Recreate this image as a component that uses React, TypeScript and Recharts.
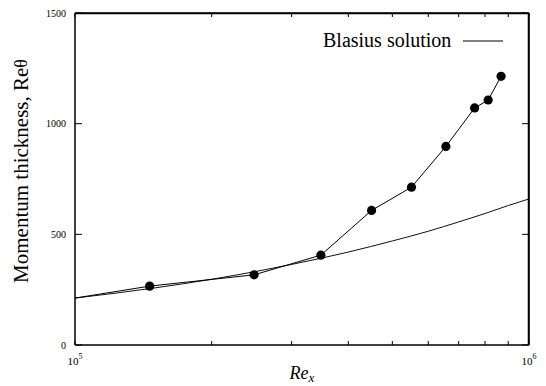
import React from 'react';
import {
  ComposedChart,
  Line,
  XAxis,
  YAxis,
  Legend,
} from 'recharts';

const FONT = '"Liberation Serif", "Times New Roman", serif';

// Measured momentum thickness (first entry is the line's start at the left axis, no marker)
const MEAS_RE = [1.0e5, 1.46e5, 2.48e5, 3.48e5, 4.5e5, 5.51e5, 6.56e5, 7.59e5, 8.13e5, 8.68e5];
const MEAS_THETA = [212, 266, 317, 406, 608, 713, 897, 1071, 1107, 1214];

// Blasius solution
const BLASIUS_RE = [1e5, 1.5e5, 2e5, 2.5e5, 3e5, 3.5e5, 4e5, 5e5, 6e5, 7e5, 8e5, 9e5, 1e6];
const BLASIUS_THETA = [212, 258, 297, 332, 364, 393, 420, 470, 514, 556, 594, 630, 660];

const X_TICKS = [1e5, 2e5, 3e5, 4e5, 5e5, 6e5, 7e5, 8e5, 9e5, 1e6];
const Y_TICKS = [0, 500, 1000, 1500];

const measured = MEAS_RE.map((re, i) => ({ re, theta: MEAS_THETA[i] }));
const blasius = BLASIUS_RE.map((re, i) => ({ re, theta: BLASIUS_THETA[i] }));

function BottomTick({ x, y, payload }: any) {
  const v = payload.value;
  const exp = v === 1e5 ? '5' : v === 1e6 ? '6' : null;
  return (
    <g>
      <line x1={x} y1={y} x2={x} y2={y - 4} stroke="#000" strokeWidth={1} />
      {exp && (
        <text x={x} y={y + 20} textAnchor="middle" fontSize={11} fontFamily={FONT} fill="#000">
          10
          <tspan dy={-6} fontSize={8}>
            {exp}
          </tspan>
        </text>
      )}
    </g>
  );
}

// top ticks; the first one also carries the top edge of the frame (axis width = plot width)
function TopTick({ x, y, index, width }: any) {
  return (
    <g>
      <line x1={x} y1={y} x2={x} y2={y + 4} stroke="#000" strokeWidth={1} />
      {index === 0 && Number.isFinite(width) && (
        <line x1={x} y1={y + 0.5} x2={x + width} y2={y + 0.5} stroke="#000" strokeWidth={1.5} />
      )}
    </g>
  );
}

function LeftTick({ x, y, payload }: any) {
  return (
    <g>
      <line x1={x} y1={y} x2={x + 7} y2={y} stroke="#000" strokeWidth={1} />
      <text x={x - 9} y={y + 3.5} textAnchor="end" fontSize={10} fontFamily={FONT} fill="#000">
        {payload.value}
      </text>
    </g>
  );
}

// right ticks; the one at the bottom also carries the right edge of the frame (axis height = plot height)
function RightTick({ x, y, payload, height }: any) {
  return (
    <g>
      <line x1={x} y1={y} x2={x - 7} y2={y} stroke="#000" strokeWidth={1} />
      {payload.value === 0 && Number.isFinite(height) && (
        <line x1={x - 0.5} y1={y} x2={x - 0.5} y2={y - height} stroke="#000" strokeWidth={1.5} />
      )}
    </g>
  );
}

function YLabel({ viewBox }: any) {
  const cx = viewBox.x - 14;
  const cy = viewBox.y + viewBox.height / 2 - 8;
  return (
    <text
      x={cx}
      y={cy}
      transform={`rotate(-90, ${cx}, ${cy})`}
      textAnchor="middle"
      dominantBaseline="central"
      fontSize={21}
      fontFamily={FONT}
      fill="#000"
    >
      Momentum thickness, Re
      <tspan fontSize={18}>θ</tspan>
    </text>
  );
}

function XLabel({ viewBox }: any) {
  const cx = viewBox.x + viewBox.width / 2;
  return (
    <text x={cx} y={viewBox.y + 34} textAnchor="middle" fontSize={18} fontFamily={FONT} fontStyle="italic" fill="#000">
      Re
      <tspan dy={3} fontSize={13}>
        x
      </tspan>
    </text>
  );
}

function LegendBox() {
  return (
    <div style={{ display: 'flex', alignItems: 'center', fontFamily: FONT, fontSize: 20, lineHeight: '20px', color: '#000' }}>
      <span>Blasius solution</span>
      <svg width={52} height={10} style={{ marginLeft: 10 }}>
        <line x1={2} y1={6} x2={42} y2={6} stroke="#000" strokeWidth={1} />
      </svg>
    </div>
  );
}

function MeasDot(props: any) {
  const { cx, cy, index } = props;
  if (index === 0) return <g key={`d-${index}`} />;
  return <circle key={`d-${index}`} cx={cx} cy={cy} r={4.6} fill="#000" stroke="none" />;
}

export default function App() {
  return (
    <div style={{ position: 'absolute', left: 0, top: 0, background: '#fff' }}>
      <ComposedChart width={546} height={386} margin={{ top: 12, right: 0, bottom: 0, left: 35 }}>
        <XAxis
          xAxisId="b"
          type="number"
          dataKey="re"
          scale="log"
          domain={[1e5, 1e6]}
          ticks={X_TICKS}
          height={41}
          tickSize={0}
          tickMargin={0}
          tick={BottomTick}
          interval={0}
          axisLine={{ stroke: '#000', strokeWidth: 1.5 }}
          label={{ content: XLabel }}
        />
        <XAxis
          xAxisId="t"
          orientation="top"
          type="number"
          dataKey="re"
          scale="log"
          domain={[1e5, 1e6]}
          ticks={X_TICKS}
          height={1}
          tickSize={0}
          tickMargin={0}
          tick={TopTick}
          interval={0}
          axisLine={{ stroke: '#000', strokeWidth: 1.5 }}
        />
        <YAxis
          yAxisId="l"
          type="number"
          domain={[0, 1500]}
          ticks={Y_TICKS}
          width={40}
          tickSize={0}
          tickMargin={0}
          tick={LeftTick}
          interval={0}
          axisLine={{ stroke: '#000', strokeWidth: 1.5 }}
          label={{ content: YLabel }}
        />
        <YAxis
          yAxisId="r"
          orientation="right"
          type="number"
          domain={[0, 1500]}
          ticks={Y_TICKS}
          width={17}
          tickSize={0}
          tickMargin={0}
          tick={RightTick}
          interval={0}
          axisLine={{ stroke: '#000', strokeWidth: 1.5 }}
        />
        <Legend
          layout="vertical"
          align="center"
          verticalAlign="middle"
          content={LegendBox}
          wrapperStyle={{ top: 30, left: 323, width: 210, height: 20 }}
        />
        {/* invisible series so the top/right tick axes get drawn */}
        <Line
          xAxisId="t"
          yAxisId="r"
          data={blasius}
          dataKey="theta"
          stroke="none"
          dot={false}
          activeDot={false}
          isAnimationActive={false}
          legendType="none"
        />
        <Line
          xAxisId="b"
          yAxisId="l"
          data={blasius}
          dataKey="theta"
          type="monotone"
          stroke="#111"
          strokeWidth={1}
          dot={false}
          activeDot={false}
          isAnimationActive={false}
          legendType="none"
        />
        <Line
          xAxisId="b"
          yAxisId="l"
          data={measured}
          dataKey="theta"
          type="linear"
          stroke="#000"
          strokeWidth={1}
          dot={MeasDot}
          activeDot={false}
          isAnimationActive={false}
          legendType="none"
        />
      </ComposedChart>
    </div>
  );
}
